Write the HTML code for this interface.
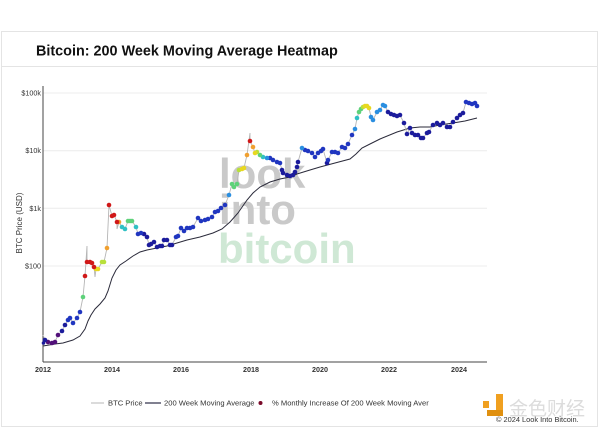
<!DOCTYPE html>
<html><head><meta charset="utf-8"><style>
html,body{margin:0;padding:0;background:#fff;width:600px;height:429px;overflow:hidden}
svg{display:block}
text{font-family:"Liberation Sans",Arial,sans-serif}
</style></head><body>
<svg width="600" height="429" viewBox="0 0 600 429" xmlns="http://www.w3.org/2000/svg">
<rect x="1.5" y="31.5" width="596" height="395" fill="#fff" stroke="#e4e4e4" stroke-width="1"/>
<line x1="1.5" y1="66.5" x2="597.5" y2="66.5" stroke="#e4e4e4"/>
<text x="36" y="55.5" font-size="14.4" font-weight="bold" fill="#111">Bitcoin: 200 Week Moving Average Heatmap</text>

<!-- gridlines -->
<g stroke="#ececec" stroke-width="1">
<line x1="43" y1="93" x2="487" y2="93"/>
<line x1="43" y1="150.7" x2="487" y2="150.7"/>
<line x1="43" y1="208.3" x2="487" y2="208.3"/>
<line x1="43" y1="266" x2="487" y2="266"/>
</g>

<!-- watermark -->
<g font-weight="bold" font-size="42">
<text x="219" y="188" fill="#c9c9c9">look</text>
<text x="219" y="224" fill="#c9c9c9">into</text>
<text x="218" y="263" fill="#cfe8d5">bitcoin</text>
</g>

<!-- axes -->
<line x1="43" y1="86" x2="43" y2="362" stroke="#444" stroke-width="1"/>
<line x1="43" y1="362" x2="487" y2="362" stroke="#444" stroke-width="1"/>

<g font-size="7.2" fill="#333" text-anchor="end">
<text x="41" y="95.5">$100k</text>
<text x="41" y="153">$10k</text>
<text x="41" y="210.8">$1k</text>
<text x="41" y="268.5">$100</text>
</g>
<text transform="translate(22,223) rotate(-90)" font-size="8" fill="#333" text-anchor="middle">BTC Price (USD)</text>
<g font-size="7.2" fill="#333" text-anchor="middle" font-weight="bold">
<text x="43" y="372">2012</text>
<text x="112" y="372">2014</text>
<text x="181" y="372">2016</text>
<text x="251" y="372">2018</text>
<text x="320" y="372">2020</text>
<text x="389" y="372">2022</text>
<text x="459" y="372">2024</text>
</g>

<!-- MA line -->
<polyline fill="none" stroke="#2a2a3a" stroke-width="1" points="43,346 55,344 63,343 73,340 80,336 85,329 88,321 91,315 95,309 100,304 105,298 108,291 112,278 116,270 120,265 126,261 133,256 140,252 147,250 157,248 167,246 177,243 187,240 200,237 213,233 222,229 230,222 238,213 247,200 253,193 260,187 270,182 280,179 290,177 297,174 310,170 320,167 335,163 350,159 356,154 362,148 370,144 380,139 397,132 410,128 420,127 430,127 440,125 453,123 465,121 477,118"/>

<!-- price line -->
<polyline fill="none" stroke="#b5b5b5" stroke-width="0.9" points="43,335 45,340 48,342 52,343 55,342 58,335 62,331 65,325 68,320 70,318 73,323 77,318 80,312 83,297 85,276 87,246 87,262 90,262 92,263 94,267 95,277 96,269 98,269 102,262 104,262 107,248 109,205 112,216 114,215 117,222 117,229 119,222 122,227 125,229 128,221 130,221 132,221 136,227 138,234 141,233 144,234 147,237 149,245 151,244 154,242 157,247 160,246 162,246 164,240 167,240 170,245 172,245 176,237 178,236 181,228 184,231 187,228 190,228 193,227 198,218 201,221 205,220 208,219 212,217 215,212 218,211 221,208 225,205 229,195 232,184 234,187 237,184 239,170 242,169 244,168 247,155 250,133 250,141 253,147 255,153 257,152 260,155 263,157 267,158 270,158 273,160 277,162 280,163 282,170 283,173 287,175 290,176 293,175 295,172 297,167 298,162 302,148 305,150 308,151 312,153 315,157 318,153 321,151 323,149 327,163 328,160 332,152 335,152 338,153 342,147 345,148 348,144 352,135 355,129 357,118 359,112 361,109 363,107 365,106 367,106 369,108 371,117 373,120 377,112 380,110 383,105 385,106 388,112 391,114 394,115 397,116 400,115 404,123 407,134 410,128 412,133 415,135 418,135 421,138 423,138 427,133 429,132 433,125 437,123 440,125 443,123 447,127 450,127 453,122 457,118 460,115 463,113 466,102 469,103 472,104 475,103 477,106"/>

<!-- dots -->
<g>
<g fill="#52107a">
<circle cx="48" cy="342" r="2.3"/><circle cx="52" cy="343" r="2.3"/><circle cx="55" cy="342" r="2.3"/><circle cx="58" cy="335" r="2.3"/>
</g>
<g fill="#1c1c9c">
<circle cx="43.5" cy="343" r="1.8"/><circle cx="45" cy="340" r="2.3"/><circle cx="62" cy="331" r="2.3"/><circle cx="65" cy="325" r="2.3"/>
<circle cx="144" cy="234" r="2.3"/><circle cx="147" cy="237" r="2.3"/><circle cx="149" cy="245" r="2.3"/><circle cx="151" cy="244" r="2.3"/><circle cx="154" cy="242" r="2.3"/><circle cx="157" cy="247" r="2.3"/><circle cx="160" cy="246" r="2.3"/><circle cx="162" cy="246" r="2.3"/><circle cx="164" cy="240" r="2.3"/><circle cx="167" cy="240" r="2.3"/><circle cx="170" cy="245" r="2.3"/><circle cx="172" cy="245" r="2.3"/>
<circle cx="282" cy="170" r="2.3"/><circle cx="283" cy="173" r="2.3"/><circle cx="287" cy="175" r="2.3"/><circle cx="290" cy="176" r="2.3"/><circle cx="293" cy="175" r="2.3"/><circle cx="295" cy="172" r="2.3"/><circle cx="297" cy="167" r="2.3"/><circle cx="298" cy="162" r="2.3"/>
<circle cx="327" cy="163" r="2.3"/>
<circle cx="388" cy="112" r="2.3"/><circle cx="391" cy="114" r="2.3"/><circle cx="394" cy="115" r="2.3"/><circle cx="397" cy="116" r="2.3"/><circle cx="400" cy="115" r="2.3"/><circle cx="404" cy="123" r="2.3"/><circle cx="407" cy="134" r="2.3"/><circle cx="410" cy="128" r="2.3"/><circle cx="412" cy="133" r="2.3"/><circle cx="415" cy="135" r="2.3"/><circle cx="418" cy="135" r="2.3"/><circle cx="421" cy="138" r="2.3"/><circle cx="423" cy="138" r="2.3"/><circle cx="427" cy="133" r="2.3"/><circle cx="429" cy="132" r="2.3"/><circle cx="433" cy="125" r="2.3"/><circle cx="437" cy="123" r="2.3"/><circle cx="440" cy="125" r="2.3"/><circle cx="443" cy="123" r="2.3"/><circle cx="447" cy="127" r="2.3"/><circle cx="450" cy="127" r="2.3"/><circle cx="453" cy="122" r="2.3"/><circle cx="457" cy="118" r="2.3"/><circle cx="460" cy="115" r="2.3"/><circle cx="463" cy="113" r="2.3"/>
</g>
<g fill="#2036c0">
<circle cx="68" cy="320" r="2.3"/><circle cx="70" cy="318" r="2.3"/><circle cx="73" cy="323" r="2.3"/><circle cx="77" cy="318" r="2.3"/><circle cx="80" cy="312" r="2.3"/>
<circle cx="138" cy="234" r="2.3"/><circle cx="141" cy="233" r="2.3"/>
<circle cx="176" cy="237" r="2.3"/><circle cx="178" cy="236" r="2.3"/><circle cx="181" cy="228" r="2.3"/><circle cx="184" cy="231" r="2.3"/><circle cx="187" cy="228" r="2.3"/><circle cx="190" cy="228" r="2.3"/><circle cx="193" cy="227" r="2.3"/><circle cx="198" cy="218" r="2.3"/><circle cx="201" cy="221" r="2.3"/><circle cx="205" cy="220" r="2.3"/><circle cx="208" cy="219" r="2.3"/><circle cx="212" cy="217" r="2.3"/><circle cx="215" cy="212" r="2.3"/><circle cx="218" cy="211" r="2.3"/><circle cx="221" cy="208" r="2.3"/><circle cx="225" cy="205" r="2.3"/>
<circle cx="270" cy="158" r="2.3"/><circle cx="273" cy="160" r="2.3"/><circle cx="277" cy="162" r="2.3"/><circle cx="280" cy="163" r="2.3"/>
<circle cx="305" cy="150" r="2.3"/><circle cx="308" cy="151" r="2.3"/><circle cx="312" cy="153" r="2.3"/><circle cx="315" cy="157" r="2.3"/><circle cx="318" cy="153" r="2.3"/><circle cx="321" cy="151" r="2.3"/><circle cx="323" cy="149" r="2.3"/><circle cx="328" cy="160" r="2.3"/><circle cx="332" cy="152" r="2.3"/><circle cx="335" cy="152" r="2.3"/><circle cx="338" cy="153" r="2.3"/><circle cx="342" cy="147" r="2.3"/><circle cx="345" cy="148" r="2.3"/><circle cx="348" cy="144" r="2.3"/><circle cx="352" cy="135" r="2.3"/>
<circle cx="466" cy="102" r="2.3"/><circle cx="469" cy="103" r="2.3"/><circle cx="472" cy="104" r="2.3"/><circle cx="475" cy="103" r="2.3"/><circle cx="477" cy="106" r="2.3"/>
</g>
<g fill="#2a8ee0">
<circle cx="229" cy="195" r="2.3"/><circle cx="267" cy="158" r="2.3"/><circle cx="302" cy="148" r="2.3"/><circle cx="355" cy="129" r="2.3"/>
<circle cx="371" cy="117" r="2.3"/><circle cx="373" cy="120" r="2.3"/><circle cx="377" cy="112" r="2.3"/><circle cx="380" cy="110" r="2.3"/><circle cx="383" cy="105" r="2.3"/><circle cx="385" cy="106" r="2.3"/>
</g>
<g fill="#30c0c4">
<circle cx="122" cy="227" r="2.3"/><circle cx="125" cy="229" r="2.3"/><circle cx="136" cy="227" r="2.3"/><circle cx="263" cy="157" r="2.3"/><circle cx="357" cy="118" r="2.3"/>
</g>
<g fill="#5ed27a">
<circle cx="83" cy="297" r="2.3"/><circle cx="128" cy="221" r="2.3"/><circle cx="130" cy="221" r="2.3"/><circle cx="132" cy="221" r="2.3"/>
<circle cx="232" cy="184" r="2.3"/><circle cx="234" cy="187" r="2.3"/><circle cx="237" cy="184" r="2.3"/><circle cx="260" cy="155" r="2.3"/><circle cx="359" cy="112" r="2.3"/><circle cx="361" cy="109" r="2.3"/>
</g>
<g fill="#b8e03a">
<circle cx="102" cy="262" r="2.3"/><circle cx="104" cy="262" r="2.3"/><circle cx="239" cy="170" r="2.3"/><circle cx="257" cy="152" r="2.3"/><circle cx="363" cy="107" r="2.3"/>
</g>
<g fill="#e8d820">
<circle cx="96" cy="269" r="2.3"/><circle cx="98" cy="269" r="2.3"/><circle cx="242" cy="169" r="2.3"/><circle cx="244" cy="168" r="2.3"/><circle cx="255" cy="153" r="2.3"/>
<circle cx="365" cy="106" r="2.3"/><circle cx="367" cy="106" r="2.3"/><circle cx="369" cy="108" r="2.3"/>
</g>
<g fill="#f0a030">
<circle cx="107" cy="248" r="2.3"/><circle cx="119" cy="222" r="2.3"/><circle cx="247" cy="155" r="2.3"/><circle cx="253" cy="147" r="2.3"/>
</g>
<g fill="#d01818">
<circle cx="85" cy="276" r="2.3"/><circle cx="87" cy="262" r="2.3"/><circle cx="90" cy="262" r="2.3"/><circle cx="92" cy="263" r="2.3"/><circle cx="94" cy="267" r="2.3"/>
<circle cx="109" cy="205" r="2.3"/><circle cx="112" cy="216" r="2.3"/><circle cx="114" cy="215" r="2.3"/><circle cx="117" cy="222" r="2.3"/><circle cx="250" cy="141" r="2.3"/>
</g>
</g>

<!-- legend -->
<line x1="91" y1="403" x2="104" y2="403" stroke="#cfcfcf" stroke-width="1.5"/>
<text x="108" y="405.5" font-size="7.6" fill="#333">BTC Price</text>
<line x1="145" y1="403" x2="161" y2="403" stroke="#55556a" stroke-width="1.5"/>
<text x="164" y="405.5" font-size="7.6" fill="#333">200 Week Moving Average</text>
<circle cx="260.5" cy="403" r="2" fill="#7a0a2a"/>
<text x="272" y="405.5" font-size="7.6" fill="#333">% Monthly Increase Of 200 Week Moving Aver</text>

<!-- bottom-right watermark -->
<g fill="#f0a020">
<rect x="483" y="401" width="6" height="7"/>
<rect x="496" y="394" width="7" height="22"/>
<rect x="487" y="410" width="16" height="6" fill="#e09010"/>
</g>
<text x="509" y="415" font-size="19" fill="#dcdcdc" font-family="'Liberation Sans','Noto Sans CJK SC',sans-serif">金色财经</text>
<text x="496" y="422" font-size="7.4" fill="#333">© 2024 Look Into Bitcoin.</text>
</svg>
</body></html>
